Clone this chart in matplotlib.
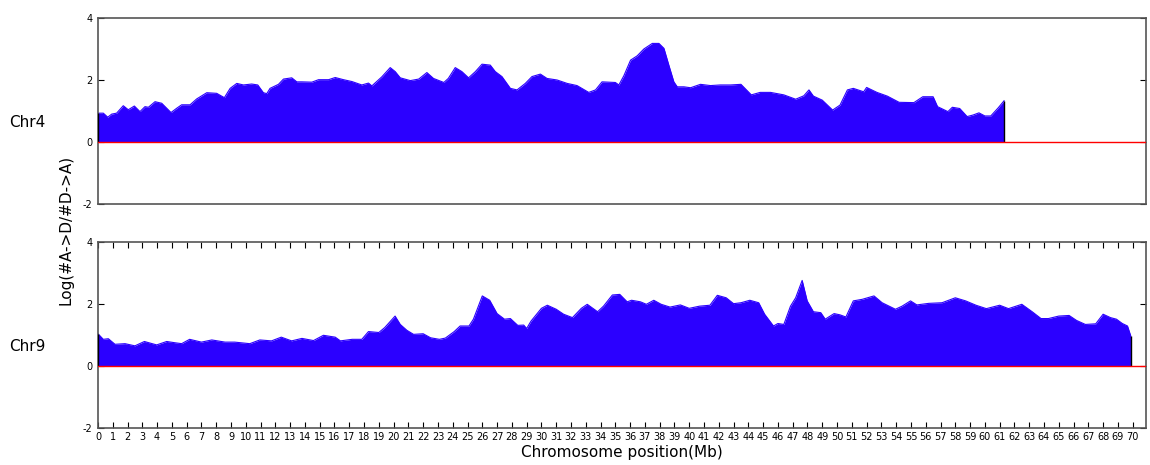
import matplotlib
matplotlib.use("Agg")
import matplotlib.pyplot as plt
import numpy as np

# Chromosome 4: window positions (Mb) and log ratio of A->D / D->A
chr4_pos = [0.0, 0.36, 0.66, 0.93, 1.26, 1.71, 2.05, 2.46, 2.84, 3.18, 3.41, 3.86,
            4.31, 4.94, 5.33, 5.66, 6.23, 6.68, 7.36, 8.03, 8.55, 8.94, 9.39, 9.84,
            10.4, 10.81, 11.19, 11.42, 11.64, 12.21, 12.55, 13.11, 13.45, 13.79,
            14.47, 14.92, 15.6, 16.05, 16.61, 17.18, 17.85, 18.3, 18.53, 19.2,
            19.77, 20.11, 20.45, 21.13, 21.7, 22.25, 22.7, 23.4, 23.7, 24.17,
            24.62, 25.07, 25.53, 25.98, 26.54, 26.88, 27.33, 27.9, 28.35, 28.91,
            29.36, 29.93, 30.38, 31.06, 31.74, 32.41, 33.2, 33.66, 34.1, 35.0,
            35.24, 35.58, 36.03, 36.48, 36.93, 37.5, 37.95, 38.29, 38.62, 38.96,
            39.19, 39.64, 40.09, 40.76, 41.44, 42.1, 42.8, 43.5, 44.2, 44.8, 45.5,
            46.4, 47.2, 47.75, 48.1, 48.4, 49.0, 49.7, 50.2, 50.7, 51.1, 51.8,
            52.0, 52.7, 53.4, 54.2, 55.2, 55.8, 56.5, 56.8, 57.5, 57.8, 58.3,
            58.8, 59.2, 59.6, 60.0, 60.4, 60.9, 61.3]
chr4_val = [0.93, 0.93, 0.80, 0.90, 0.93, 1.17, 1.04, 1.16, 0.98, 1.14, 1.12, 1.30,
            1.25, 0.95, 1.09, 1.20, 1.20, 1.39, 1.59, 1.57, 1.43, 1.73, 1.89, 1.84,
            1.87, 1.84, 1.59, 1.56, 1.73, 1.86, 2.03, 2.07, 1.94, 1.94,
            1.93, 2.01, 2.01, 2.08, 2.01, 1.95, 1.84, 1.90, 1.81, 2.10,
            2.40, 2.27, 2.07, 1.98, 2.03, 2.24, 2.05, 1.92, 2.05, 2.40,
            2.27, 2.07, 2.27, 2.51, 2.48, 2.27, 2.11, 1.73, 1.68, 1.89,
            2.11, 2.19, 2.05, 2.00, 1.89, 1.82, 1.60, 1.68, 1.94, 1.92,
            1.84, 2.14, 2.64, 2.78, 3.00, 3.18, 3.18, 3.02, 2.48, 1.94,
            1.78, 1.78, 1.75, 1.86, 1.82, 1.84, 1.84, 1.86, 1.52, 1.60, 1.60,
            1.52, 1.38, 1.49, 1.68, 1.48, 1.35, 1.03, 1.19, 1.68, 1.73, 1.62,
            1.76, 1.60, 1.48, 1.28, 1.27, 1.46, 1.46, 1.14, 0.98, 1.12, 1.08,
            0.82, 0.87, 0.94, 0.84, 0.84, 1.10, 1.33]

# Chromosome 9
chr9_pos = [0.0, 0.36, 0.7, 1.15, 1.83, 2.5, 3.14, 3.97, 4.65, 5.2, 5.66, 6.2, 7.0,
            7.7, 8.6, 9.25, 10.27, 10.95, 11.74, 12.4, 13.1, 13.8, 14.58, 15.25,
            16.05, 16.4, 17.2, 17.85, 18.3, 19.0, 19.4, 20.1, 20.45, 20.9, 21.35,
            22.0, 22.5, 23.1, 23.5, 24.1, 24.5, 25.1, 25.4, 26.0, 26.5, 27.0, 27.5,
            27.9, 28.4, 28.8, 29.0, 29.3, 30.0, 30.4, 31.0, 31.5, 32.1, 32.7, 33.1,
            33.8, 34.2, 34.8, 35.3, 35.8, 36.1, 36.7, 37.1, 37.6, 38.1, 38.7, 39.4,
            40.0, 40.7, 41.4, 41.9, 42.5, 43.0, 43.5, 44.1, 44.7, 45.1, 45.7, 46.0,
            46.4, 46.85, 47.2, 47.64, 47.98, 48.4, 48.9, 49.2, 49.8, 50.2, 50.6,
            51.1, 51.7, 52.5, 53.05, 53.95, 54.4, 54.97, 55.4, 56.2, 57.1, 58.0,
            58.7, 59.4, 60.1, 61.0, 61.6, 62.5, 63.2, 63.8, 64.3, 65.0, 65.7, 66.2,
            66.8, 67.5, 68.0, 68.5, 68.9, 69.3, 69.65, 69.87]
chr9_val = [1.04, 0.86, 0.88, 0.70, 0.72, 0.65, 0.79, 0.68, 0.79, 0.75, 0.72, 0.86, 0.77,
            0.84, 0.77, 0.77, 0.72, 0.84, 0.81, 0.93, 0.81, 0.89, 0.82, 0.99,
            0.93, 0.81, 0.86, 0.86, 1.11, 1.08, 1.24, 1.61, 1.34, 1.15, 1.02,
            1.04, 0.91, 0.86, 0.90, 1.11, 1.29, 1.29, 1.51, 2.26, 2.12, 1.69, 1.51,
            1.53, 1.31, 1.32, 1.21, 1.45, 1.86, 1.96, 1.83, 1.67, 1.56, 1.86, 1.99,
            1.75, 1.93, 2.29, 2.31, 2.07, 2.12, 2.07, 1.99, 2.12, 1.99, 1.90, 1.97,
            1.86, 1.93, 1.96, 2.28, 2.20, 2.01, 2.04, 2.12, 2.04, 1.67, 1.29, 1.37,
            1.34, 1.93, 2.20, 2.76, 2.10, 1.75, 1.72, 1.51, 1.69, 1.65, 1.58,
            2.10, 2.15, 2.26, 2.04, 1.83, 1.93, 2.10, 1.97, 2.02, 2.04, 2.20,
            2.10, 1.96, 1.85, 1.96, 1.85, 1.99, 1.75, 1.53, 1.53, 1.61, 1.63, 1.47,
            1.34, 1.36, 1.67, 1.56, 1.51, 1.37, 1.29, 0.97]

chrom_names = ["Chr4", "Chr9"]
x_ticks = list(range(0, 71))
y_ticks = [-2, 0, 2, 4]

fill_color = "#2B00FF"
spine_color = "#555555"

fig = plt.figure(figsize=(11.5, 4.65), dpi=100)
ax_top = fig.add_axes([0.0852, 0.5613, 0.9113, 0.4])
ax_bot = fig.add_axes([0.0852, 0.0796, 0.9113, 0.4])

series = [(chr4_pos, chr4_val), (chr9_pos, chr9_val)]
for ax, (pos, val), name in zip([ax_top, ax_bot], series, chrom_names):
    pos = np.asarray(pos)
    val = np.asarray(val)
    ax.fill_between(pos, 0, val, color=fill_color, linewidth=0, zorder=2)
    ax.plot(pos, val, color=fill_color, lw=0.8, zorder=2)
    ax.vlines([pos[0], pos[-1]], 0, [val[0], val[-1]], color="black", lw=1.0, zorder=3)
    ax.axhline(0, color="red", lw=1.0, zorder=4)
    ax.set_xlim(0, 70.9)
    ax.set_ylim(-2, 4)
    ax.set_yticks(y_ticks)
    ax.set_yticklabels([str(t) for t in y_ticks], fontsize=7)
    for sp in ax.spines.values():
        sp.set_color(spine_color)
        sp.set_linewidth(1.2)
    ax.tick_params(axis="y", direction="in", left=True, right=True, length=4,
                   width=0.8, pad=4)
    ax.text(-0.0845, 0.44, name, transform=ax.transAxes, fontsize=11,
            ha="left", va="center")

ax_top.set_xticks([])

ax_bot.set_xticks(x_ticks)
ax_bot.set_xticklabels([str(t) for t in x_ticks], fontsize=7)
ax_bot.tick_params(axis="x", direction="in", top=True, bottom=True, length=4,
                   width=0.8, pad=3)
ax_bot.set_xlabel("Chromosome position(Mb)", fontsize=11, labelpad=2)

fig.text(0.057, 0.505, "Log(#A->D/#D->A)", rotation=90, fontsize=11,
         ha="center", va="center")

fig.savefig("out.png", dpi=100)
